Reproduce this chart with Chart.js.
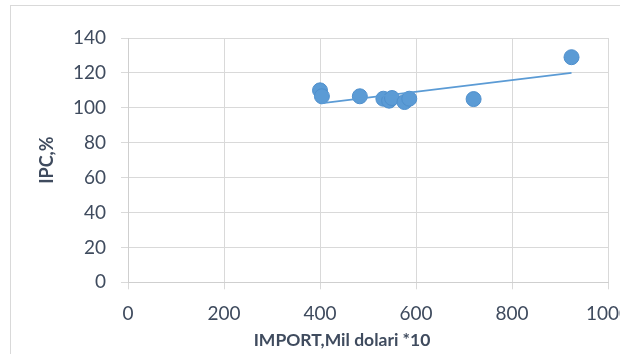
<!DOCTYPE html>
<html>
<head>
<meta charset="utf-8">
<script src="https://cdn.jsdelivr.net/npm/chart.js@4"></script>
<style>
  html, body { margin: 0; padding: 0; background: #fff; overflow: hidden; }
  #frame { position: absolute; left: 10px; top: 5px; width: 700px; height: 400px;
           border: 1px solid #d9d9d9; box-sizing: border-box; }
  #wrap { position: absolute; left: 0; top: 0; width: 684px; height: 354px; }
</style>
</head>
<body>
<div id="frame"></div>
<div id="wrap"><canvas id="chart"></canvas></div>
<script>
// import (mil dolari *10) vs IPC (%)
const importVals = [400, 404, 483, 532, 544, 550, 576, 586, 720, 924];
const ipcVals    = [110, 106.6, 106.6, 105.2, 104.1, 105.6, 103.3, 105.2, 105, 129];
// linear trendline, ends
const trendX = [401, 924];
const trendY = [102.6, 120];

const xTicks = [0, 200, 400, 600, 800, 1000];
const yTicks = [0, 20, 40, 60, 80, 100, 120, 140];

const blue = '#5b9bd5';
const textCol = '#3f4b5e';
const gridCol = '#d9d9d9';
const font = 'Lato, "Open Sans", sans-serif';

const points = importVals.map((x, i) => ({ x: x, y: ipcVals[i] }));
const trend = trendX.map((x, i) => ({ x: x, y: trendY[i] }));

new Chart(document.getElementById('chart').getContext('2d'), {
  type: 'scatter',
  data: {
    datasets: [
      {
        label: 'IPC',
        data: points,
        backgroundColor: blue,
        borderColor: '#4f8fcc',
        borderWidth: 1,
        pointRadius: 7.5,
        order: 2
      },
      {
        type: 'line',
        label: 'trend',
        data: trend,
        borderColor: blue,
        borderWidth: 1.75,
        pointRadius: 0,
        fill: false,
        order: 1
      }
    ]
  },
  options: {
    responsive: true,
    maintainAspectRatio: false,
    animation: false,
    layout: { padding: { top: 38, left: 0, right: 0, bottom: 2.7 } },
    plugins: {
      legend: { display: false },
      tooltip: { enabled: false },
      title: {
        display: true,
        position: 'bottom',
        text: 'IMPORT,Mil dolari *10',
        color: textCol,
        font: { family: font, size: 17.5, weight: 'bold' },
        padding: { top: 8, bottom: 0 }
      }
    },
    scales: {
      x: {
        type: 'linear',
        min: 0,
        max: 1000,
        afterBuildTicks: s => { s.ticks = xTicks.map(v => ({ value: v })); },
        afterFit: s => { s.height = 40; },
        grid: { color: gridCol, tickLength: 7 },
        border: { color: '#cfcfcf' },
        ticks: { color: textCol, font: { family: font, size: 19 }, padding: 13, maxRotation: 0,
                 callback: v => String(v) }
      },
      y: {
        min: 0,
        max: 140,
        afterBuildTicks: s => { s.ticks = yTicks.map(v => ({ value: v })); },
        afterFit: s => { s.width = 128; },
        grid: { color: gridCol, tickLength: 7 },
        border: { color: '#cfcfcf' },
        ticks: { color: textCol, font: { family: font, size: 19 }, padding: 15,
                 callback: v => String(v) },
        title: {
          display: true,
          text: 'IPC,%',
          color: textCol,
          font: { family: font, size: 18, weight: 'bold' },
          padding: { top: 36, bottom: 0 }
        }
      },
      yR: {
        position: 'right',
        afterFit: s => { s.width = 76; },
        grid: { display: false },
        border: { display: false },
        ticks: { display: false }
      }
    }
  }
});
</script>
</body>
</html>
